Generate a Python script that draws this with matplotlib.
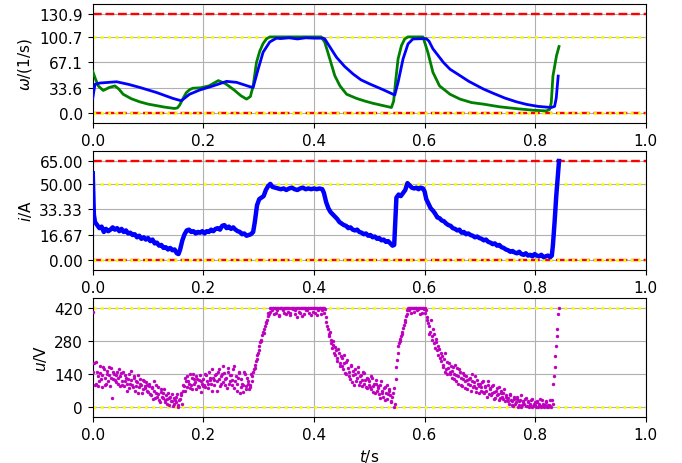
import numpy as np
import matplotlib
matplotlib.use('Agg')
from matplotlib import pyplot as plt

plt.rcParams['font.size'] = 11

# limits / nominal values of the states
omega_nom = 100.7
omega_lim = 130.9
i_nom = 50.0
i_lim = 65.0
u_nom = 420.0

omega_ticks = [0.0, 33.6, 67.1, 100.7, 130.9]
i_ticks = [0.0, 16.67, 33.33, 50.0, 65.0]
u_ticks = [0, 140, 280, 420]

# reference speed (green)
t_ref = [0.000, 0.005, 0.010, 0.019, 0.030, 0.040, 0.047, 0.055, 0.070, 0.085,
         0.100, 0.115, 0.130, 0.148, 0.153, 0.157, 0.163, 0.169, 0.175, 0.181,
         0.195, 0.210, 0.227, 0.240, 0.255, 0.268, 0.278, 0.285, 0.290, 0.296,
         0.302, 0.308, 0.314, 0.320, 0.413, 0.4195, 0.4286, 0.4376, 0.447, 0.459,
         0.477, 0.492, 0.507, 0.525, 0.540, 0.544, 0.548, 0.552, 0.558, 0.564,
         0.570, 0.597, 0.606, 0.615, 0.627, 0.646, 0.664, 0.685, 0.706, 0.735,
         0.766, 0.795, 0.820, 0.826, 0.829, 0.832, 0.8385, 0.843]
omega_ref = [55, 45, 36, 30, 34, 36, 32, 25, 19, 15,
             12, 10, 8, 6.2, 7, 10.6, 19, 27, 31, 33,
             33.5, 36, 43, 39, 31, 23, 18.6, 22, 36, 67,
             82, 92, 98, 100.7, 100.7, 93.7, 71.6, 49.5, 36, 25,
             19.5, 16, 13, 10, 7.5, 16, 45, 71.6, 89, 98,
             100.7, 100.7, 80, 54, 36, 25, 18.6, 14, 12, 8.5,
             6, 4, 3, 5, 14, 49, 76, 88]

# measured speed (blue)
t_omega = [0.000, 0.004, 0.0127, 0.043, 0.065, 0.085, 0.115, 0.145, 0.160, 0.175,
           0.193, 0.2175, 0.242, 0.260, 0.284, 0.290, 0.299, 0.308, 0.320, 0.332,
           0.340, 0.355, 0.370, 0.385, 0.400, 0.4165, 0.4195, 0.430, 0.4407, 0.455,
           0.4707, 0.485, 0.501, 0.525, 0.546, 0.552, 0.561, 0.570, 0.579, 0.603,
           0.608, 0.615, 0.634, 0.646, 0.661, 0.680, 0.706, 0.725, 0.745, 0.766,
           0.785, 0.805, 0.829, 0.835, 0.838, 0.8415]
omega = [20, 38, 39.8, 41.5, 38, 34, 27.4, 19.5, 16.4, 25,
         30.5, 36, 42, 40.7, 35, 34, 58, 80.5, 94, 99,
         98.5, 99.5, 98, 99.5, 99, 99, 98, 86, 73.8, 62,
         51.7, 44, 38.5, 31, 24, 40.7, 71.6, 91.5, 98, 98.5,
         95, 85, 67, 58, 51, 42, 32, 26, 20, 15,
         11.5, 9, 7.5, 9, 20, 49]

# current (blue)
t_i = [0.000, 0.002, 0.004, 0.008, 0.012, 0.016, 0.020, 0.024, 0.028, 0.032,
       0.036, 0.040, 0.044, 0.048, 0.052, 0.056, 0.060, 0.064, 0.068, 0.072,
       0.076, 0.080, 0.084, 0.088, 0.092, 0.096, 0.100, 0.104, 0.108, 0.112,
       0.116, 0.120, 0.124, 0.128, 0.132, 0.136, 0.140, 0.144, 0.148, 0.152,
       0.155, 0.158, 0.162, 0.166, 0.170, 0.174, 0.178, 0.182, 0.186, 0.190,
       0.194, 0.198, 0.202, 0.206, 0.210, 0.214, 0.218, 0.222, 0.226, 0.230,
       0.234, 0.238, 0.242, 0.246, 0.250, 0.254, 0.258, 0.262, 0.266, 0.270,
       0.274, 0.278, 0.282, 0.286, 0.290, 0.293, 0.297, 0.301, 0.305, 0.309,
       0.313, 0.317, 0.321, 0.325, 0.330, 0.335, 0.340, 0.345, 0.350, 0.355,
       0.360, 0.365, 0.370, 0.375, 0.380, 0.385, 0.390, 0.395, 0.400, 0.405,
       0.410, 0.415, 0.418, 0.422, 0.426, 0.430, 0.434, 0.438, 0.442, 0.446,
       0.450, 0.454, 0.458, 0.462, 0.466, 0.470, 0.474, 0.478, 0.482, 0.486,
       0.490, 0.494, 0.498, 0.502, 0.506, 0.510, 0.514, 0.518, 0.522, 0.526,
       0.530, 0.534, 0.538, 0.542, 0.545, 0.547, 0.549, 0.553, 0.557, 0.561,
       0.565, 0.569, 0.573, 0.577, 0.581, 0.585, 0.589, 0.593, 0.597, 0.600,
       0.603, 0.607, 0.611, 0.615, 0.619, 0.623, 0.627, 0.631, 0.635, 0.639,
       0.643, 0.647, 0.651, 0.655, 0.659, 0.663, 0.667, 0.671, 0.675, 0.679,
       0.683, 0.687, 0.691, 0.695, 0.699, 0.703, 0.707, 0.711, 0.715, 0.719,
       0.723, 0.727, 0.731, 0.735, 0.739, 0.743, 0.747, 0.751, 0.755, 0.759,
       0.763, 0.767, 0.771, 0.775, 0.779, 0.783, 0.787, 0.791, 0.795, 0.799,
       0.803, 0.807, 0.811, 0.815, 0.819, 0.823, 0.827, 0.830, 0.832, 0.835,
       0.838, 0.841, 0.843]
current = [57, 30, 25, 23, 21, 22, 18.5, 20.5, 19, 20,
           21.5, 20, 21, 19, 20.5, 18.5, 19.5, 17.5, 18, 16.5,
           17, 15, 16, 14, 15, 13.5, 14.5, 12.5, 13.5, 11,
           11.5, 9.5, 10, 8, 8.5, 7, 8, 6.5, 7, 4.5,
           4, 7, 13, 17, 19.5, 20, 18.5, 19, 17.5, 18.5,
           18, 19, 17.5, 19, 18.5, 20, 19, 20.5, 21, 20,
           22.5, 23, 21, 22, 20.5, 21.5, 20, 19, 18.5, 17,
           17.5, 16, 16.5, 17, 18.5, 25, 36, 40, 41, 42,
           46, 48.5, 50, 48, 47.5, 47, 46.5, 47, 46, 47,
           47.5, 46.5, 46, 47, 47.5, 46.5, 47, 46.5, 47, 46.5,
           47, 46.5, 44, 38, 34, 31.5, 30, 28.5, 27, 25,
           24, 23, 22.5, 21, 21.5, 20, 19.5, 20, 18.5, 18,
           17, 17.5, 16, 16.5, 15, 15.5, 14, 14.5, 13, 13.5,
           12, 12.5, 11, 9.5, 10, 25, 41, 43, 42, 44,
           46, 50.5, 49, 47.5, 47, 47.5, 46.5, 47.5, 47, 45,
           40, 37, 34, 32.5, 30.5, 28, 27.5, 26, 25.5, 24,
           23, 22.5, 21, 20.5, 19.5, 20, 18, 18.5, 17, 17.5,
           16.5, 16, 15, 15.5, 14.5, 14, 13, 13.5, 12, 11.5,
           10.5, 11, 9.5, 10, 8.5, 8, 7, 6.5, 5.5, 6,
           5, 4.5, 5.5, 4, 3.5, 4.5, 3, 3.5, 2.5, 4,
           3, 2.5, 3.5, 2, 2.5, 3, 2, 3, 10, 25,
           42, 56, 65]

# voltage samples (magenta), two interleaved sample sets, 2.5 ms apart each
u_dt = 0.0025
voltage_a = [
    405, 185, 100, 150, 90, 175, 120, 135, 160, 95, 140, 110, 170, 125, 40, 150, 115, 135, 100, 160,
    130, 95, 150, 110, 125, 70, 140, 100, 115, 85, 130, 90, 105, 60, 120, 95, 75, 110, 80, 95,
    65, 100, 50, 85, 70, 40, 95, 55, 30, 75, 45, 60, 20, 50, 35, 10, 45, 25, 5, 40,
    20, 55, 0, 35, 50, 70, 90, 125, 85, 110, 140, 95, 75, 120, 105, 130, 90, 115, 65, 100,
    120, 85, 135, 100, 150, 115, 70, 125, 95, 140, 110, 160, 90, 130, 105, 145, 120, 80, 165, 110,
    135, 95, 175, 110, 70, 125, 150, 85, 100, 65, 140, 90, 110, 75, 95, 130, 150, 165, 195, 220,
    240, 275, 285, 320, 330, 355, 370, 400, 405, 420, 420, 395, 420, 410, 420, 385, 420, 420, 400, 420,
    420, 405, 420, 390, 420, 420, 410, 420, 380, 420, 400, 420, 420, 395, 420, 410, 420, 420, 390, 420,
    420, 400, 420, 410, 420, 395, 420, 420, 415, 360, 330, 300, 285, 250, 265, 220, 240, 195, 230, 175,
    210, 160, 185, 140, 200, 150, 120, 175, 135, 95, 160, 125, 150, 105, 135, 90, 145, 115, 80, 120,
    110, 75, 125, 90, 60, 100, 80, 55, 95, 70, 45, 85, 60, 35, 75, 50, 25, 60, 0, 120,
    200, 260, 280, 300, 320, 350, 370, 395, 420, 410, 420, 420, 405, 420, 420, 415, 420, 420, 400, 420,
    420, 410, 370, 345, 320, 300, 330, 270, 290, 240, 260, 210, 230, 180, 205, 150, 190, 165, 140, 175,
    155, 120, 180, 135, 100, 160, 125, 90, 145, 110, 130, 75, 120, 95, 140, 85, 105, 65, 115, 90,
    100, 70, 110, 60, 85, 45, 95, 75, 50, 90, 65, 40, 80, 55, 30, 70, 45, 60, 25, 50,
    40, 15, 55, 25, 5, 35, 20, 45, 10, 30, 0, 25, 15, 40, 5, 20, 10, 30, 0, 15,
    10, 25, 0, 15, 5, 30, 0, 10, 20, 0, 10, 5, 30, 100, 170, 260, 330, 420,
]
voltage_b = [
    150, 95, 190, 130, 110, 145, 85, 170, 125, 100, 155, 135, 90, 165, 120, 140, 105, 150, 125, 90,
    145, 110, 90, 135, 100, 120, 80, 155, 95, 125, 70, 110, 135, 85, 100, 60, 115, 90, 105, 70,
    90, 55, 80, 35, 110, 60, 45, 85, 20, 65, 40, 75, 30, 15, 60, 40, 25, 55, 15, 30,
    45, 10, 30, 60, 15, 95, 70, 110, 130, 100, 80, 125, 140, 100, 75, 120, 85, 135, 110, 90,
    95, 140, 110, 80, 125, 100, 160, 115, 135, 70, 150, 120, 100, 140, 175, 95, 125, 150, 100, 135,
    115, 160, 80, 130, 100, 145, 60, 120, 95, 150, 75, 125, 100, 85, 140, 110, 160, 180, 205, 230,
    260, 280, 305, 315, 345, 360, 385, 395, 420, 410, 420, 420, 400, 420, 390, 420, 420, 410, 420, 395,
    420, 420, 400, 420, 415, 420, 395, 420, 420, 405, 420, 385, 420, 420, 410, 420, 400, 420, 420, 405,
    420, 420, 390, 420, 420, 410, 420, 400, 380, 345, 310, 320, 270, 280, 230, 255, 210, 245, 185, 215,
    175, 220, 145, 190, 165, 130, 180, 105, 155, 140, 110, 170, 95, 130, 115, 150, 100, 85, 125, 95,
    85, 130, 65, 100, 115, 70, 90, 40, 110, 60, 80, 30, 95, 55, 70, 20, 45, 80, 15, 170,
    230, 270, 290, 310, 335, 360, 385, 410, 420, 420, 400, 420, 420, 420, 410, 420, 395, 420, 420, 415,
    400, 380, 355, 310, 370, 285, 310, 250, 275, 220, 245, 195, 215, 170, 230, 160, 140, 185, 150, 125,
    170, 140, 110, 165, 130, 150, 95, 120, 135, 80, 115, 100, 125, 70, 110, 90, 130, 80, 100, 60,
    85, 105, 65, 90, 70, 110, 55, 80, 60, 95, 35, 70, 50, 85, 40, 60, 35, 75, 45, 30,
    25, 50, 30, 10, 45, 15, 35, 0, 25, 50, 10, 20, 35, 5, 25, 0, 15, 35, 5, 20,
    0, 20, 10, 35, 0, 15, 5, 25, 0, 10, 30, 0, 15, 130, 215, 300, 395,
]
t_u_a = np.arange(len(voltage_a)) * u_dt
t_u_b = np.arange(len(voltage_b)) * u_dt + u_dt / 2


def draw_limits(ax, nominal, limit):
    if limit is not None:
        ax.axhline(limit, color='r', linestyle='--', linewidth=1.7, zorder=2)
        ax.axhline(0, color='r', linestyle='--', linewidth=1.7, zorder=2)
    ax.axhline(nominal, color='yellow', linestyle=':', linewidth=2, zorder=2)
    ax.axhline(0, color='yellow', linestyle=':', linewidth=2, zorder=2)


def setup_axis(ax, ticks, fmt, top):
    ax.set_xlim(0, 1.0)
    ax.set_xticks(np.arange(0, 1.01, 0.2))
    ax.set_ylim(-0.1 * top, 1.1 * top)
    ax.set_yticks(ticks)
    ax.set_yticklabels([fmt.format(v) for v in ticks])
    ax.grid(True)
    ax.set_axisbelow(True)


fig, axes = plt.subplots(3, 1, figsize=(6.82, 4.64), dpi=100)
plt.subplots_adjust(left=0.136, right=0.947, top=0.989, bottom=0.099, hspace=0.235)

ax = axes[0]
draw_limits(ax, omega_nom, omega_lim)
ax.plot(t_ref, omega_ref, color='g', linewidth=2, zorder=3)
ax.plot(t_omega, omega, color='b', linewidth=2, zorder=4)
setup_axis(ax, omega_ticks, '{:.1f}', omega_lim)
ax.set_ylabel('$\\omega$/(1/s)')

ax = axes[1]
draw_limits(ax, i_nom, i_lim)
ax.plot(t_i, current, color='b', linewidth=3.2, zorder=3)
setup_axis(ax, i_ticks, '{:.2f}', i_lim)
ax.set_ylabel('$i$/A')

ax = axes[2]
draw_limits(ax, u_nom, None)
ax.scatter(t_u_a, voltage_a, color='m', s=6, marker='o', linewidths=0, zorder=3)
ax.scatter(t_u_b, voltage_b, color='m', s=6, marker='o', linewidths=0, zorder=3)
setup_axis(ax, u_ticks, '{:.0f}', u_nom)
ax.set_ylabel('$u$/V')
ax.set_xlabel('$t$/s')

plt.savefig('out.png', dpi=100)
